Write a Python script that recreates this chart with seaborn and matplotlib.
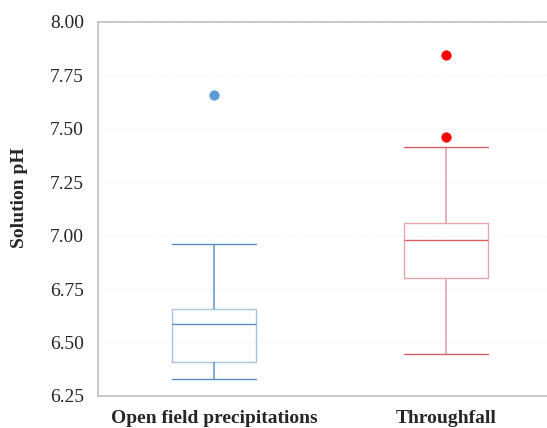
import numpy as np
import pandas as pd
import seaborn as sns
import matplotlib.pyplot as plt

# pH samples (quartiles, whiskers, outliers)
sites = ['Open field precipitations', 'Throughfall']
ph_open = [6.33, 6.38, 6.41, 6.50, 6.585, 6.62, 6.655, 6.96, 7.66]
ph_through = [6.445, 6.60, 6.72, 6.80, 6.88, 6.94, 6.98, 7.00, 7.03, 7.06, 7.415, 7.46, 7.845]
yticks = [6.25, 6.50, 6.75, 7.00, 7.25, 7.50, 7.75, 8.00]

df = pd.concat([
    pd.DataFrame({'site': sites[0], 'pH': ph_open}),
    pd.DataFrame({'site': sites[1], 'pH': ph_through}),
])

sns.set_style('white')
plt.rcParams['font.family'] = ['Liberation Serif', 'DejaVu Serif']

# cap/median colour, whisker colour, box edge colour, outlier colour
styles = {
    sites[0]: ('#5A8EC2', '#6E9CC8', '#A6C4E0', '#5B9BD5'),
    sites[1]: ('#DE5E66', '#E3A2AA', '#E8A6AD', '#FF0000'),
}

fig = plt.figure(figsize=(5.47, 4.28), dpi=100)
ax = fig.add_axes([0.179, 0.075, 0.821, 0.874])

for s in sites:
    line_c, whis_c, box_c, fly_c = styles[s]
    sns.boxplot(data=df[df.site == s], x='site', y='pH', order=sites, ax=ax,
                width=0.36, fill=False, capwidths=0.36,
                boxprops=dict(color=box_c, linewidth=1),
                whiskerprops=dict(color=whis_c, linewidth=1.2),
                capprops=dict(color=line_c, linewidth=1),
                medianprops=dict(color=line_c, linewidth=1),
                flierprops=dict(marker='o', markersize=6.8, markerfacecolor=fly_c,
                                markeredgecolor=fly_c, markeredgewidth=0.5))

ax.set_ylim(6.25, 8.00)
ax.set_xlim(-0.5, 1.435)
ax.set_yticks(yticks)
ax.set_yticklabels(['%.2f' % v for v in yticks])
ax.yaxis.grid(True, color='#F2F2F2', linestyle=(0, (3, 2)), linewidth=0.8)
ax.set_axisbelow(True)
ax.tick_params(axis='both', length=0, labelsize=14, pad=10)
for lab in ax.get_xticklabels():
    lab.set_fontweight('bold')
ax.set_xlabel('')
ax.set_ylabel('Solution pH', fontsize=14, fontweight='bold')
ax.yaxis.set_label_coords(-0.155, 0.53)

for side in ['left', 'top', 'bottom']:
    ax.spines[side].set_color('#C0C0C0')
    ax.spines[side].set_linewidth(1.2)
ax.spines['right'].set_visible(False)

fig.savefig('out.png', dpi=100)
